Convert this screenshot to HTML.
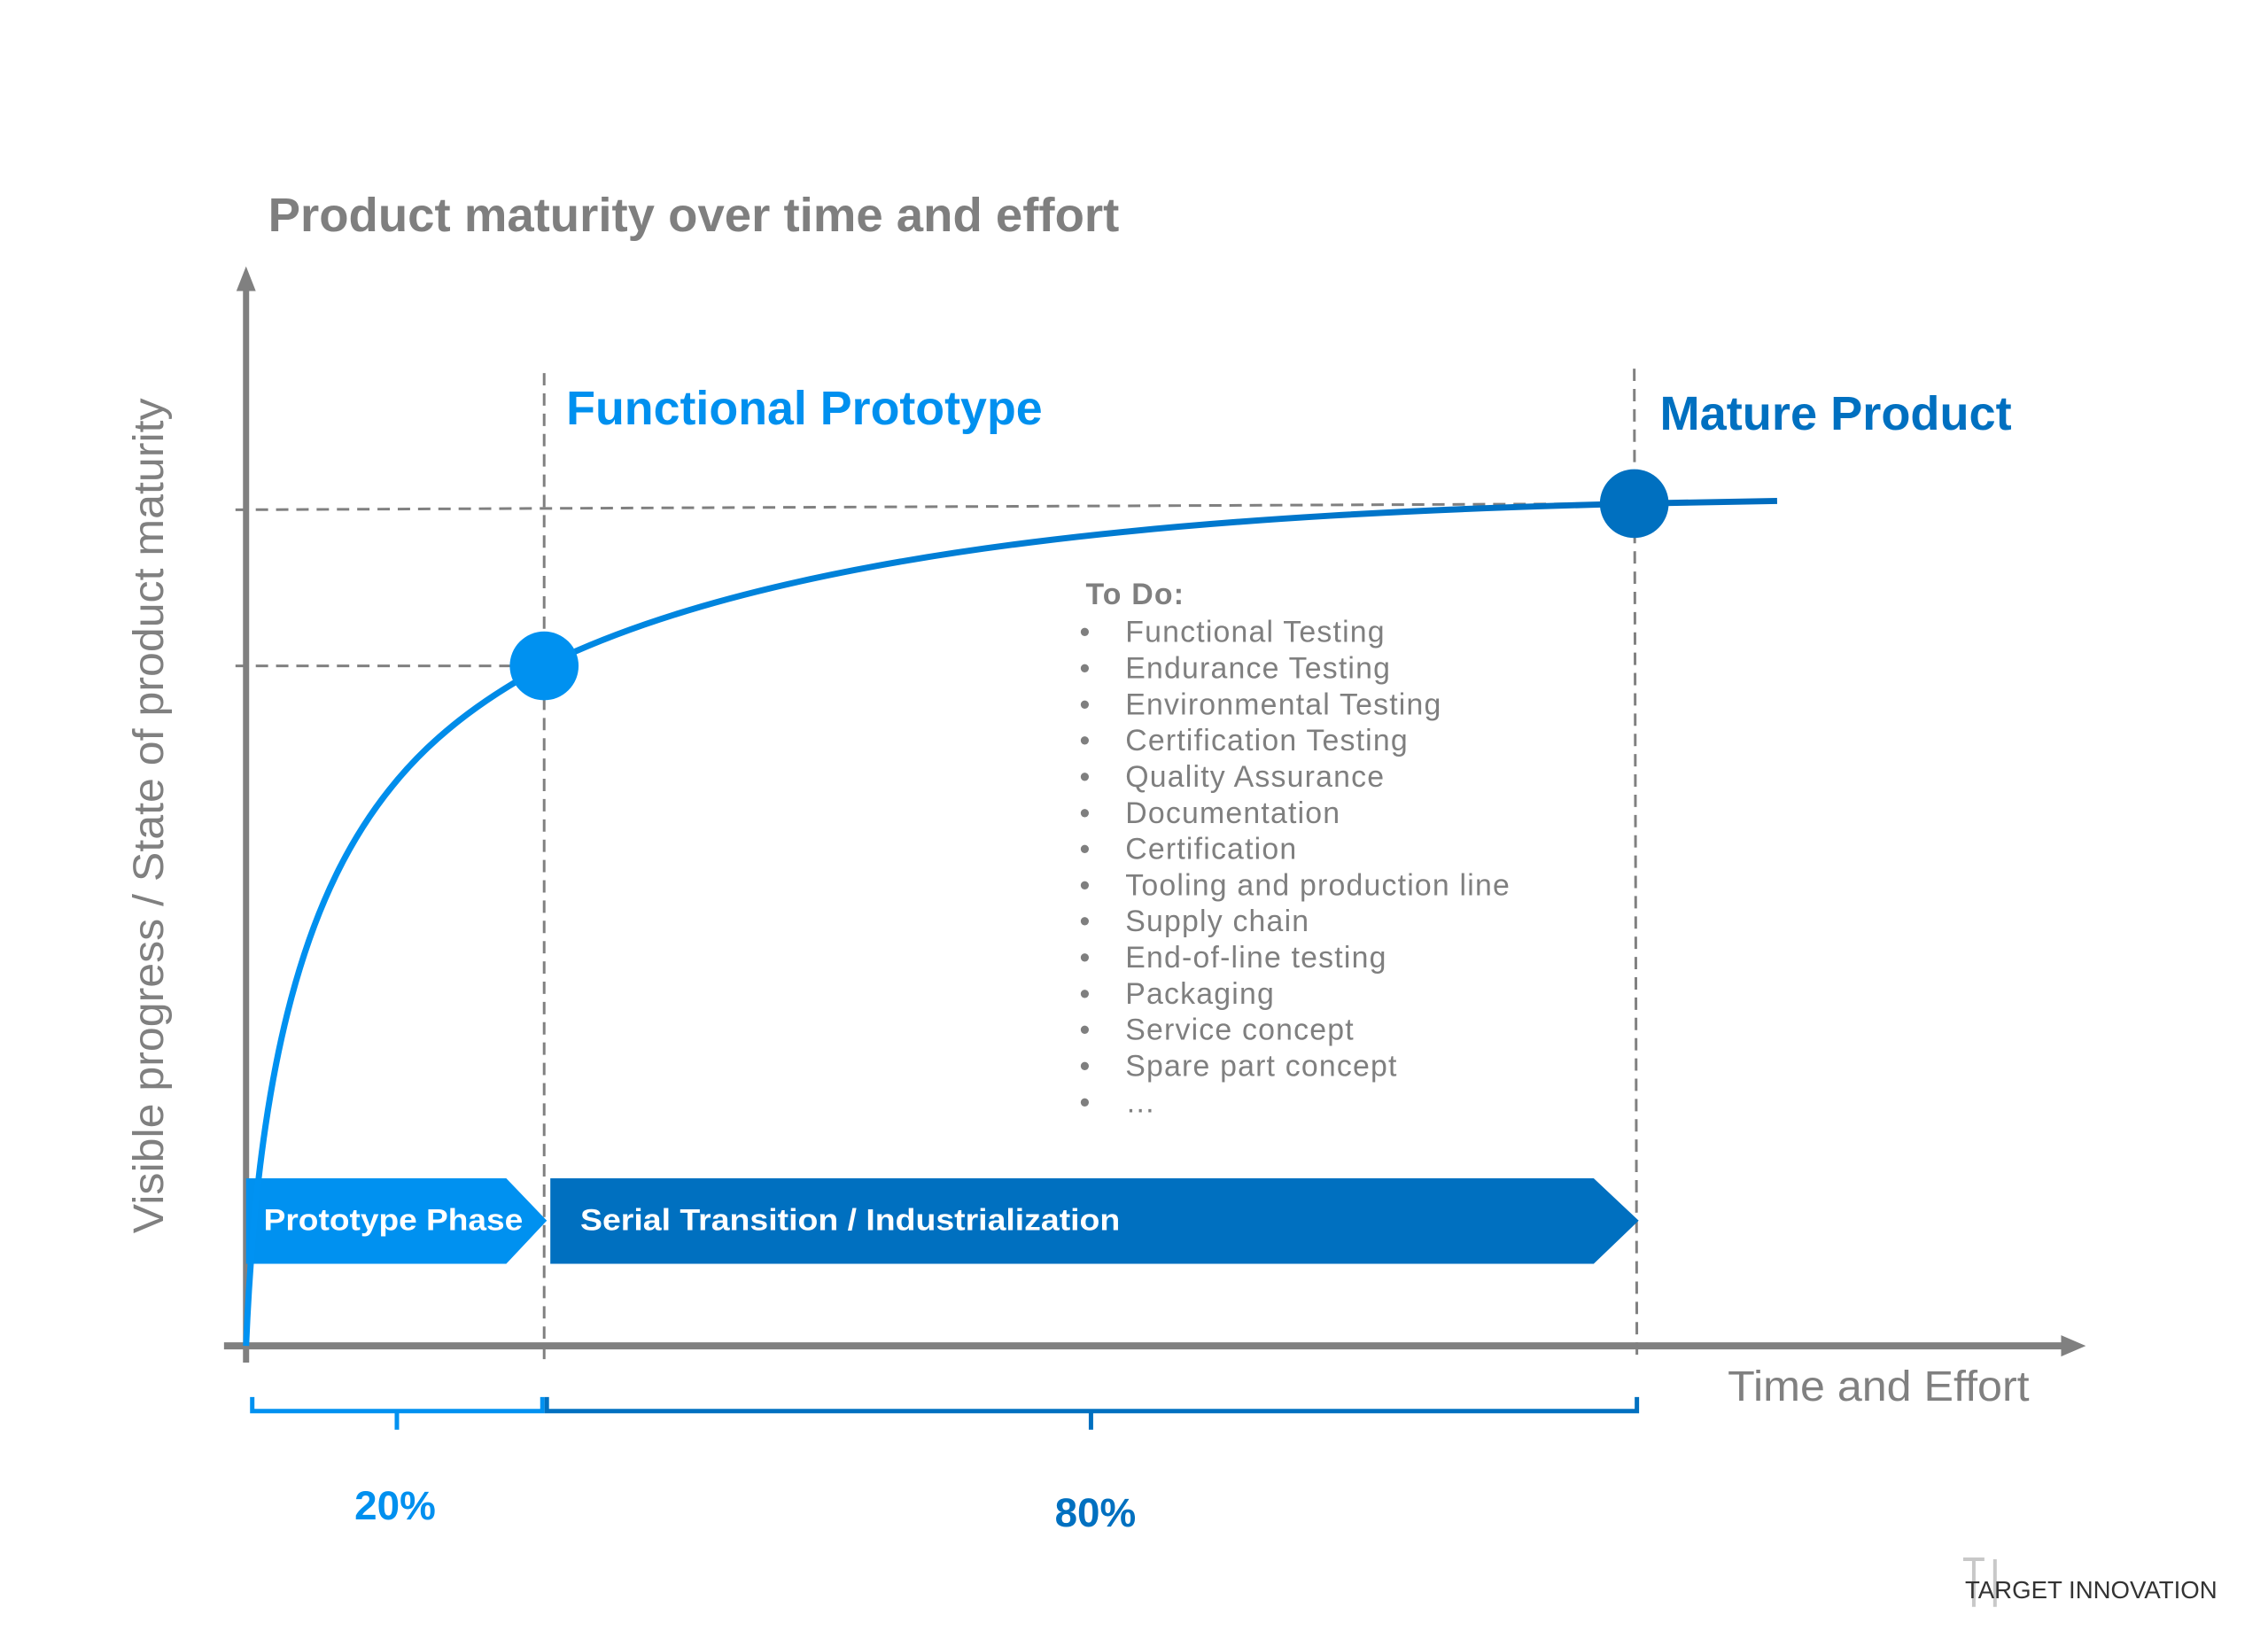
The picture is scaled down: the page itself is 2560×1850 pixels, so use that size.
<!DOCTYPE html>
<html><head><meta charset="utf-8"><style>html,body{margin:0;padding:0;background:#fff}svg{display:block}</style></head>
<body>
<svg width="2560" height="1850" viewBox="0 0 2560 1850" xmlns="http://www.w3.org/2000/svg" font-family="Liberation Sans, sans-serif">
<defs>
<linearGradient id="g" x1="279" y1="0" x2="2015" y2="0" gradientUnits="userSpaceOnUse">
<stop offset="0" stop-color="#0092f2"/><stop offset="0.35" stop-color="#0082da"/><stop offset="1" stop-color="#006cbe"/>
</linearGradient>
</defs>
<rect width="2560" height="1850" fill="#fff"/>
<g transform="scale(0.9955)">
<text x="304" y="262" font-size="54" font-weight="bold" fill="#7f7f7f" textLength="965" lengthAdjust="spacingAndGlyphs">Product maturity over time and effort</text>

<g stroke="#808080" stroke-width="3" stroke-dasharray="14,9" fill="none">
<line x1="617" y1="423" x2="617" y2="1543"/>
<line x1="1853" y1="418" x2="1856" y2="1540"/>
<line x1="267" y1="578" x2="1853" y2="571"/>
<line x1="267" y1="755" x2="617" y2="755"/>
</g>

<line x1="279" y1="1545" x2="279" y2="325" stroke="#808080" stroke-width="7"/>
<polygon points="279,302 268,330 290,330" fill="#808080"/>
<line x1="254" y1="1526" x2="2340" y2="1526" stroke="#808080" stroke-width="8"/>
<polygon points="2365,1526 2337,1514 2337,1538" fill="#808080"/>

<polygon points="279,1336 574,1336 620,1384 574,1433 279,1433" fill="#0091f0"/>
<polygon points="624,1336 1807,1336 1858,1384 1807,1433 624,1433" fill="#0070c0"/>
<text x="299" y="1395" font-size="34" font-weight="bold" fill="#fff" textLength="294" lengthAdjust="spacingAndGlyphs">Prototype Phase</text>
<text x="658" y="1395" font-size="34" font-weight="bold" fill="#fff" textLength="612" lengthAdjust="spacingAndGlyphs">Serial Transition / Industrialization</text>

<path d="M279,1526 C300,1020 420,860 617,755 C900,615 1400,582 1853,571 L2015,568" fill="none" stroke="url(#g)" stroke-width="7"/>
<circle cx="617" cy="755" r="39" fill="#0091f0"/>
<circle cx="1853" cy="571" r="39" fill="#0070c0"/>

<text x="642" y="481" font-size="54" font-weight="bold" fill="#0090ef" textLength="540" lengthAdjust="spacingAndGlyphs">Functional Prototype</text>
<text x="1882" y="487" font-size="54" font-weight="bold" fill="#0070c0" textLength="399" lengthAdjust="spacingAndGlyphs">Mature Product</text>

<text transform="translate(185,925) rotate(-90)" text-anchor="middle" font-size="48" fill="#808080" textLength="947" lengthAdjust="spacingAndGlyphs">Visible progress / State of product maturity</text>

<g fill="#7f7f7f" font-size="34" letter-spacing="1.2">
<text x="1231" y="685" font-weight="bold">To Do:</text>
<text x="1224" y="728">•</text><text x="1276" y="728">Functional Testing</text>
<text x="1224" y="769">•</text><text x="1276" y="769">Endurance Testing</text>
<text x="1224" y="810">•</text><text x="1276" y="810">Environmental Testing</text>
<text x="1224" y="851">•</text><text x="1276" y="851">Certification Testing</text>
<text x="1224" y="892">•</text><text x="1276" y="892">Quality Assurance</text>
<text x="1224" y="933">•</text><text x="1276" y="933">Documentation</text>
<text x="1224" y="974">•</text><text x="1276" y="974">Certification</text>
<text x="1224" y="1015">•</text><text x="1276" y="1015">Tooling and production line</text>
<text x="1224" y="1056">•</text><text x="1276" y="1056">Supply chain</text>
<text x="1224" y="1097">•</text><text x="1276" y="1097">End-of-line testing</text>
<text x="1224" y="1138">•</text><text x="1276" y="1138">Packaging</text>
<text x="1224" y="1179">•</text><text x="1276" y="1179">Service concept</text>
<text x="1224" y="1220">•</text><text x="1276" y="1220">Spare part concept</text>
<text x="1224" y="1261">•</text><text x="1276" y="1261">…</text>
</g>

<text x="1959" y="1588" font-size="48" fill="#808080" textLength="342" lengthAdjust="spacingAndGlyphs">Time and Effort</text>

<path d="M286,1584 L286,1600 L615,1600 L615,1584 M450,1600 L450,1621" fill="none" stroke="#0091f0" stroke-width="5"/>
<path d="M620,1584 L620,1600 L1856,1600 L1856,1584 M1237,1600 L1237,1621" fill="none" stroke="#0070c0" stroke-width="5"/>
<text x="448" y="1723" text-anchor="middle" font-size="46" font-weight="bold" fill="#0090ef">20%</text>
<text x="1242" y="1731" text-anchor="middle" font-size="46" font-weight="bold" fill="#0070c0">80%</text>

<g stroke="#c8c8c8" stroke-width="4"><line x1="2226" y1="1768" x2="2250" y2="1768"/><line x1="2238" y1="1768" x2="2238" y2="1822"/><line x1="2262" y1="1768" x2="2262" y2="1822"/></g>
<text x="2228" y="1812" font-size="28" fill="#333" textLength="286" lengthAdjust="spacingAndGlyphs">TARGET INNOVATION</text>
</g>
</svg>
</body></html>
